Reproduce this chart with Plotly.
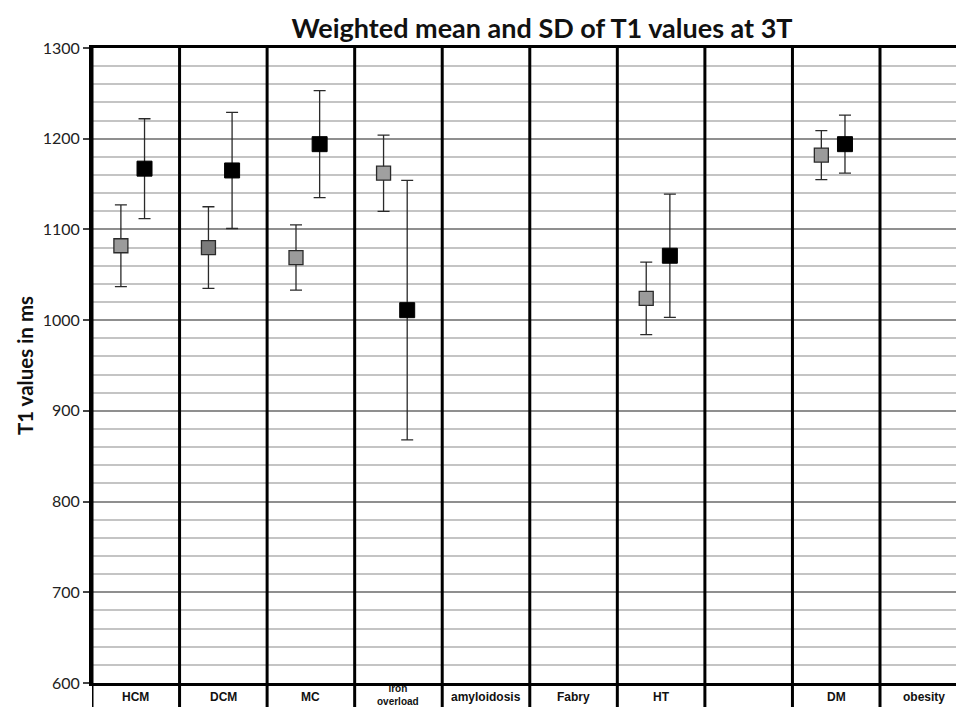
import plotly.graph_objects as go

# Disease groups along the category axis
categories = ["HCM", "DCM", "MC", "iron<br>overload", "amyloidosis",
              "Fabry", "HT", "", "DM", "obesity"]

# Weighted mean and SD of T1 (ms) at 3T, two series per group
gray_mean = [1082, 1080, 1069, 1162, None, None, 1024, None, 1182, None]
gray_sd = [45, 45, 36, 42, None, None, 40, None, 27, None]
gray_fill = ["#9b9b9b", "#7b7b7b", "#9b9b9b", "#a0a0a0", "#9b9b9b",
             "#9b9b9b", "#9b9b9b", "#9b9b9b", "#9b9b9b", "#9b9b9b"]

black_mean = [1167, 1165, 1194, 1011, None, None, 1071, None, 1194, None]
black_sd = [55, 64, 59, 143, None, None, 68, None, 32, None]

y_ticks = [600, 700, 800, 900, 1000, 1100, 1200, 1300]

idx = list(range(len(categories)))
gray_x = [i - 0.17 for i in idx]
black_x = [i + 0.10 for i in idx]

fig = go.Figure()

fig.add_trace(go.Scatter(
    x=gray_x, y=gray_mean, mode="markers",
    marker=dict(symbol="square", size=14, color=gray_fill,
                line=dict(color="#2a2a2a", width=1.3)),
    error_y=dict(type="data", array=gray_sd, visible=True,
                 color="#2a2a2a", thickness=1.3, width=6),
    showlegend=False, cliponaxis=False,
))

fig.add_trace(go.Scatter(
    x=black_x, y=black_mean, mode="markers",
    marker=dict(symbol="square", size=15, color="#000000",
                line=dict(color="#000000", width=1)),
    error_y=dict(type="data", array=black_sd, visible=True,
                 color="#2a2a2a", thickness=1.3, width=6),
    showlegend=False, cliponaxis=False,
))

# Column separators reaching down through the category label row
shapes = []
for i in range(len(categories)):
    shapes.append(dict(
        type="line", xref="x", yref="paper",
        x0=i - 0.5, x1=i - 0.5, y0=-0.06, y1=1,
        line=dict(color="#000000", width=3), layer="above",
    ))

# Category labels centred in the row under the plot
annotations = []
for i, name in enumerate(categories):
    if not name:
        continue
    two_line = "<br>" in name
    annotations.append(dict(
        x=i, y=-0.019 if two_line else -0.022, xref="x", yref="paper",
        text=f"<b>{name}</b>", showarrow=False,
        xanchor="center", yanchor="middle",
        font=dict(family="Liberation Sans, Arial, sans-serif",
                  size=10 if two_line else 12, color="#111111"),
    ))

fig.update_layout(
    width=956, height=707,
    margin=dict(l=92, r=0, t=48, b=24),
    paper_bgcolor="white", plot_bgcolor="white",
    title=dict(
        text="<b>Weighted mean and SD of T1 values at 3T</b>",
        x=0.567, xanchor="center", y=0.96, yanchor="middle",
        font=dict(family="Lato, sans-serif", size=27, color="#111111"),
    ),
    shapes=shapes,
    annotations=annotations,
    xaxis=dict(
        range=[-0.5, 9.368], showgrid=False, zeroline=False,
        showticklabels=False, ticks="",
        showline=True, linecolor="#000000", linewidth=3, mirror=True,
    ),
    yaxis=dict(
        range=[600, 1300], tickvals=y_ticks,
        ticks="outside", ticklen=6, tickcolor="#444444", tickwidth=1.5,
        showgrid=True, gridcolor="#8f8f8f", gridwidth=1.5,
        minor=dict(dtick=20, showgrid=True, gridcolor="#c4c4c4",
                   gridwidth=1.5, ticks=""),
        zeroline=False, showline=True, linecolor="#000000", linewidth=3,
        tickfont=dict(family="Lato, sans-serif", size=16, color="#222222"),
        title=dict(text="<b>T1 values in ms</b>", standoff=4,
                   font=dict(family="Lato, sans-serif", size=20.5,
                             color="#111111")),
    ),
)

fig.write_html("out.html")
